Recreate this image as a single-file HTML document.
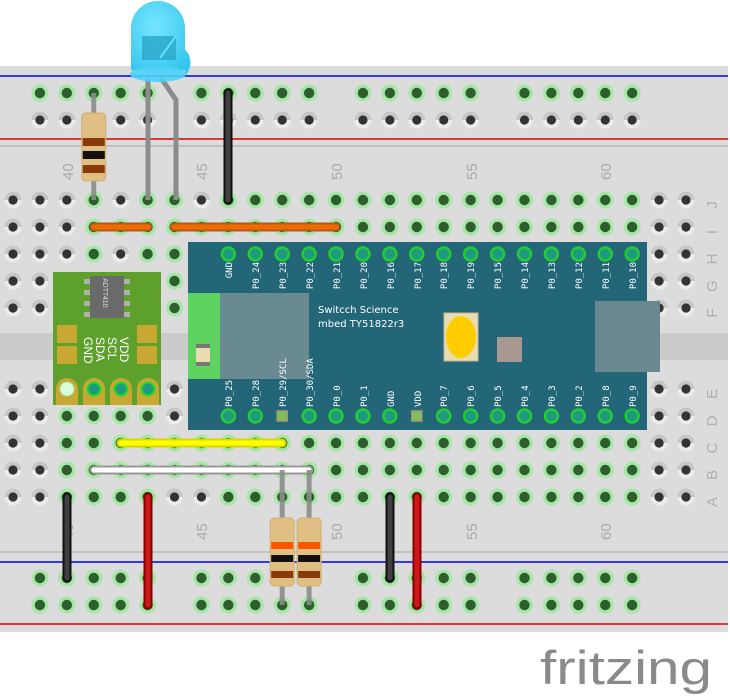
<!DOCTYPE html>
<html><head><meta charset="utf-8"><style>
html,body{margin:0;padding:0;background:#fff;width:730px;height:700px;overflow:hidden}
svg{display:block}
.mono text{font-family:"DejaVu Sans Mono","Liberation Mono",monospace}
</style></head><body>
<svg id="s" width="730" height="700" viewBox="0 0 730 700" xmlns="http://www.w3.org/2000/svg">
<defs>
<radialGradient id="led" cx="0.4" cy="0.35" r="0.7"><stop offset="0" stop-color="#6fe4ff"/><stop offset="1" stop-color="#2cc4ee"/></radialGradient>
</defs>
<rect x="0" y="66" width="728" height="566" fill="#dcdcdc"/>
<rect x="0" y="333" width="728" height="27" fill="#cbcbcb"/>
<line x1="0" y1="76" x2="728" y2="76" stroke="#0000ee" stroke-width="1.5"/>
<line x1="0" y1="139" x2="728" y2="139" stroke="#e00000" stroke-width="1.5"/>
<line x1="0" y1="146" x2="728" y2="146" stroke="#b8b8b8" stroke-width="1.5"/>
<line x1="0" y1="552" x2="728" y2="552" stroke="#b8b8b8" stroke-width="1.5"/>
<line x1="0" y1="562" x2="728" y2="562" stroke="#0000ee" stroke-width="1.5"/>
<line x1="0" y1="624" x2="728" y2="624" stroke="#e00000" stroke-width="1.5"/>
<g id="holes"></g>
<g fill="#aaaaaa" font-size="15" font-family="Liberation Sans,sans-serif">
<text transform="translate(73,180) rotate(-90)">40</text>
<text transform="translate(207,180) rotate(-90)">45</text>
<text transform="translate(342,180) rotate(-90)">50</text>
<text transform="translate(477,180) rotate(-90)">55</text>
<text transform="translate(611,180) rotate(-90)">60</text>
<text transform="translate(73,540) rotate(-90)">40</text>
<text transform="translate(207,540) rotate(-90)">45</text>
<text transform="translate(342,540) rotate(-90)">50</text>
<text transform="translate(477,540) rotate(-90)">55</text>
<text transform="translate(611,540) rotate(-90)">60</text>
</g>
<g fill="#b0b0b0" font-size="15" font-family="Liberation Sans,sans-serif">
<text transform="translate(717,205) rotate(-90)" text-anchor="middle">J</text>
<text transform="translate(717,232) rotate(-90)" text-anchor="middle">I</text>
<text transform="translate(717,259) rotate(-90)" text-anchor="middle">H</text>
<text transform="translate(717,286) rotate(-90)" text-anchor="middle">G</text>
<text transform="translate(717,313) rotate(-90)" text-anchor="middle">F</text>
<text transform="translate(717,394) rotate(-90)" text-anchor="middle">E</text>
<text transform="translate(717,421) rotate(-90)" text-anchor="middle">D</text>
<text transform="translate(717,448) rotate(-90)" text-anchor="middle">C</text>
<text transform="translate(717,475) rotate(-90)" text-anchor="middle">B</text>
<text transform="translate(717,502) rotate(-90)" text-anchor="middle">A</text>
</g>
<rect x="53" y="272" width="108" height="133" fill="#5ea02c"/>
<rect x="90" y="276" width="34" height="42" fill="#6a6a6a"/>
<g fill="#b0b0b0">
<rect x="84" y="279" width="6" height="5"/><rect x="84" y="290" width="6" height="5"/><rect x="84" y="301" width="6" height="5"/><rect x="84" y="312" width="6" height="5"/>
<rect x="124" y="279" width="6" height="5"/><rect x="124" y="290" width="6" height="5"/><rect x="124" y="301" width="6" height="5"/><rect x="124" y="312" width="6" height="5"/>
</g>
<text transform="translate(103,278) rotate(90)" fill="#ddd" font-size="7" font-family="Liberation Sans,sans-serif">ADT7410</text>
<g fill="#c8a832">
<rect x="57" y="325" width="20" height="18"/><rect x="57" y="346" width="20" height="18"/>
<rect x="137" y="325" width="20" height="18"/><rect x="137" y="346" width="20" height="18"/>
</g>
<g fill="#fff" font-size="12" font-family="Liberation Sans,sans-serif">
<text transform="translate(120,337) rotate(90)">VDD</text>
<text transform="translate(108,337) rotate(90)">SCL</text>
<text transform="translate(96,337) rotate(90)">SDA</text>
<text transform="translate(84,337) rotate(90)">GND</text>
</g>
<g fill="#c8a832">
<path d="M56 405 V389 a11 11 0 0 1 22 0 V405Z"/><path d="M83 405 V389 a11 11 0 0 1 22 0 V405Z"/>
<path d="M110 405 V389 a11 11 0 0 1 22 0 V405Z"/><path d="M137 405 V389 a11 11 0 0 1 22 0 V405Z"/>
</g>
<circle cx="67" cy="389" r="7" fill="#d8ffd8" stroke="#a8e8a8" stroke-width="1"/>
<g fill="#1f9a80" stroke="#22dd22" stroke-width="2">
<circle cx="94" cy="389" r="6.5"/><circle cx="121" cy="389" r="6.5"/><circle cx="148" cy="389" r="6.5"/>
</g>
<rect x="188" y="242" width="459" height="188" fill="#226677"/>
<rect x="188" y="293" width="32" height="86" fill="#5fd35f"/>
<rect x="220" y="293" width="89" height="86" fill="#6a8a92"/>
<rect x="196" y="344" width="14" height="22" fill="#e8dcb0"/>
<rect x="196" y="344" width="14" height="4" fill="#777"/><rect x="196" y="362" width="14" height="4" fill="#777"/>
<rect x="595" y="301" width="65" height="71" fill="#6a8890"/>
<rect x="444" y="313" width="34" height="48" fill="#e8dcb0" stroke="#c8b890"/>
<ellipse cx="461" cy="337" rx="15" ry="21" fill="#ffcc00"/>
<rect x="497" y="337" width="25" height="25" fill="#a89890"/>
<text x="318" y="313" fill="#fff" font-size="10" font-family="DejaVu Sans,sans-serif">Switcch Science</text>
<text x="318" y="327" fill="#fff" font-size="10" font-family="DejaVu Sans,sans-serif">mbed TY51822r3</text>
<g id="pins"></g>
<g class="mono" fill="#fff" font-size="9">
<text transform="translate(232,262) rotate(-90)" text-anchor="end">GND</text>
<text transform="translate(259,262) rotate(-90)" text-anchor="end">P0_24</text>
<text transform="translate(286,262) rotate(-90)" text-anchor="end">P0_23</text>
<text transform="translate(313,262) rotate(-90)" text-anchor="end">P0_22</text>
<text transform="translate(340,262) rotate(-90)" text-anchor="end">P0_21</text>
<text transform="translate(367,262) rotate(-90)" text-anchor="end">P0_20</text>
<text transform="translate(394,262) rotate(-90)" text-anchor="end">P0_16</text>
<text transform="translate(421,262) rotate(-90)" text-anchor="end">P0_17</text>
<text transform="translate(447,262) rotate(-90)" text-anchor="end">P0_18</text>
<text transform="translate(474,262) rotate(-90)" text-anchor="end">P0_19</text>
<text transform="translate(501,262) rotate(-90)" text-anchor="end">P0_15</text>
<text transform="translate(528,262) rotate(-90)" text-anchor="end">P0_14</text>
<text transform="translate(555,262) rotate(-90)" text-anchor="end">P0_13</text>
<text transform="translate(582,262) rotate(-90)" text-anchor="end">P0_12</text>
<text transform="translate(609,262) rotate(-90)" text-anchor="end">P0_11</text>
<text transform="translate(636,262) rotate(-90)" text-anchor="end">P0_10</text>
<text transform="translate(232,407) rotate(-90)">P0_25</text>
<text transform="translate(259,407) rotate(-90)">P0_28</text>
<text transform="translate(286,407) rotate(-90)">P0_29/SCL</text>
<text transform="translate(313,407) rotate(-90)">P0_30/SDA</text>
<text transform="translate(340,407) rotate(-90)">P0_0</text>
<text transform="translate(367,407) rotate(-90)">P0_1</text>
<text transform="translate(394,407) rotate(-90)">GND</text>
<text transform="translate(421,407) rotate(-90)">VDD</text>
<text transform="translate(447,407) rotate(-90)">P0_7</text>
<text transform="translate(474,407) rotate(-90)">P0_6</text>
<text transform="translate(501,407) rotate(-90)">P0_5</text>
<text transform="translate(528,407) rotate(-90)">P0_4</text>
<text transform="translate(555,407) rotate(-90)">P0_3</text>
<text transform="translate(582,407) rotate(-90)">P0_2</text>
<text transform="translate(609,407) rotate(-90)">P0_8</text>
<text transform="translate(636,407) rotate(-90)">P0_9</text>
</g>
<g stroke-linecap="round">
<line x1="94" y1="227" x2="148" y2="227" stroke="#b05a20" stroke-width="9"/><line x1="94" y1="227" x2="148" y2="227" stroke="#f06a00" stroke-width="5"/>
<line x1="174" y1="227" x2="336" y2="227" stroke="#b05a20" stroke-width="9"/><line x1="174" y1="227" x2="336" y2="227" stroke="#f06a00" stroke-width="5"/>
<line x1="228" y1="93" x2="228" y2="200" stroke="#111" stroke-width="9"/><line x1="228" y1="93" x2="228" y2="200" stroke="#404040" stroke-width="5"/>
<line x1="121" y1="443" x2="282" y2="443" stroke="#d8d800" stroke-width="9"/><line x1="121" y1="443" x2="282" y2="443" stroke="#ffff00" stroke-width="5"/>
<line x1="94" y1="470" x2="309" y2="470" stroke="#999" stroke-width="9"/><line x1="94" y1="470" x2="309" y2="470" stroke="#fff" stroke-width="5"/>
<line x1="67" y1="497" x2="67" y2="578" stroke="#111" stroke-width="9"/><line x1="67" y1="497" x2="67" y2="578" stroke="#404040" stroke-width="5"/>
<line x1="148" y1="497" x2="148" y2="605" stroke="#8a0000" stroke-width="9"/><line x1="148" y1="497" x2="148" y2="605" stroke="#cc1818" stroke-width="5"/>
<line x1="390" y1="497" x2="390" y2="578" stroke="#111" stroke-width="9"/><line x1="390" y1="497" x2="390" y2="578" stroke="#404040" stroke-width="5"/>
<line x1="417" y1="497" x2="417" y2="605" stroke="#8a0000" stroke-width="9"/><line x1="417" y1="497" x2="417" y2="605" stroke="#cc1818" stroke-width="5"/>
</g>
<g id="res"></g>
<path d="M148 78 V200" stroke="#8c8c8c" stroke-width="5" fill="none"/>
<path d="M161 78 L176 100 V200" stroke="#8c8c8c" stroke-width="5" fill="none"/>
<path d="M131 70 V28 a27 27 0 0 1 54 0 V50 a10 14 0 0 1 0 25 L185 70 Z" fill="url(#led)" opacity="0.95"/>
<ellipse cx="158" cy="74" rx="28" ry="8" fill="#4dd2f8" opacity="0.9"/>
<rect x="142" y="36" width="34" height="24" fill="#2aa6c8" opacity="0.8"/>
<line x1="160" y1="58" x2="176" y2="36" stroke="#5fe0ff" stroke-width="2"/>
<text x="540" y="684" fill="#8a8a8a" font-size="47" font-family="Liberation Sans,sans-serif" textLength="172" lengthAdjust="spacingAndGlyphs">fritzing</text>
</svg>
<script>
var NS="http://www.w3.org/2000/svg";
function el(p,t,a){var e=document.createElementNS(NS,t);for(var k in a)e.setAttribute(k,a[k]);p.appendChild(e);return e;}
var H=document.getElementById("holes");
function cx(k){return 13+26.92*k;}
function hole(x,y,g){
 if(g){el(H,"circle",{cx:x,cy:y,r:8.5,fill:"#a6e6a6"});el(H,"circle",{cx:x,cy:y,r:5.2,fill:"#2e5e2e"});}
 else{el(H,"circle",{cx:x,cy:y,r:8.5,fill:"#ececec"});el(H,"path",{d:"M"+(x-8.5)+" "+y+" a8.5 8.5 0 0 1 17 0z",fill:"#c6c6c6"});el(H,"circle",{cx:x,cy:y,r:4.6,fill:"#333"});}
}
for(var k=1;k<=23;k++){ if(k%6==0)continue;
 hole(cx(k),93,true);hole(cx(k),120,false);hole(cx(k),578,true);hole(cx(k),605,true);}
var rowsT=[200,227,254,281,308], rowsB=[389,416,443,470,497];
for(var k=0;k<=25;k++){
 var x=cx(k);
 for(var i=0;i<5;i++){var y=rowsT[i];
  if(k>=7&&k<=23&&(i>=2))continue;
  if(k>=2&&k<=5&&(i>=3))continue;
  var g=false;
  if(k>=3&&k<=23){
   if(i==0) g=!(k==4||k==7);
   if(i==1) g=true;
   if(i==2) g=(k==3||k==5||k==6);
  }
  if(k==6) g=true;
  hole(x,y,g);}
 for(var i=0;i<5;i++){var y=rowsB[i];
  if(k>=8&&k<=23&&i<=1)continue;
  if(k>=2&&k<=5&&i==0)continue;
  var g=false;
  if(k>=2&&k<=23){
   if(i==1) g=(k<=5);
   if(i==2||i==3) g=true;
   if(i==4) g=!(k==6||k==7);
  }
  hole(x,y,g);}
}
var P=document.getElementById("pins");
for(var k=8;k<=23;k++){var x=cx(k);
 el(P,"circle",{cx:x,cy:254,r:6.5,fill:"#1f9a80",stroke:"#22cc33","stroke-width":2.5});
 if(k==10||k==15){el(P,"rect",{x:x-5,y:411,width:10,height:10,fill:"#7fbf5f",stroke:"#a89870","stroke-width":1.5});}
 else el(P,"circle",{cx:x,cy:416,r:6.5,fill:"#1f9a80",stroke:"#22cc33","stroke-width":2.5});
}
var R=document.getElementById("res");
function res(x,y1,y2,by,bands){
 el(R,"line",{x1:x,y1:y1,x2:x,y2:y2,stroke:"#8c8c8c","stroke-width":5,opacity:0.9});
 el(R,"rect",{x:x-12,y:by,width:24,height:68,rx:4,fill:"#e0bf85",stroke:"#cfae74"});
 bands.forEach(function(b){el(R,"rect",{x:x-11,y:by+b[0],width:22,height:b[1],fill:b[2]});});
}
res(cx(3),93,200,113,[[25,8,"#8a3a08"],[38,8,"#111"],[52,8,"#8a3a08"]]);
res(cx(10),470,605,518,[[24,7,"#ff5500"],[37,7,"#111"],[53,7,"#8a3a08"]]);
res(cx(11),470,605,518,[[24,7,"#ff5500"],[37,7,"#111"],[53,7,"#8a3a08"]]);
</script>
</body></html>
